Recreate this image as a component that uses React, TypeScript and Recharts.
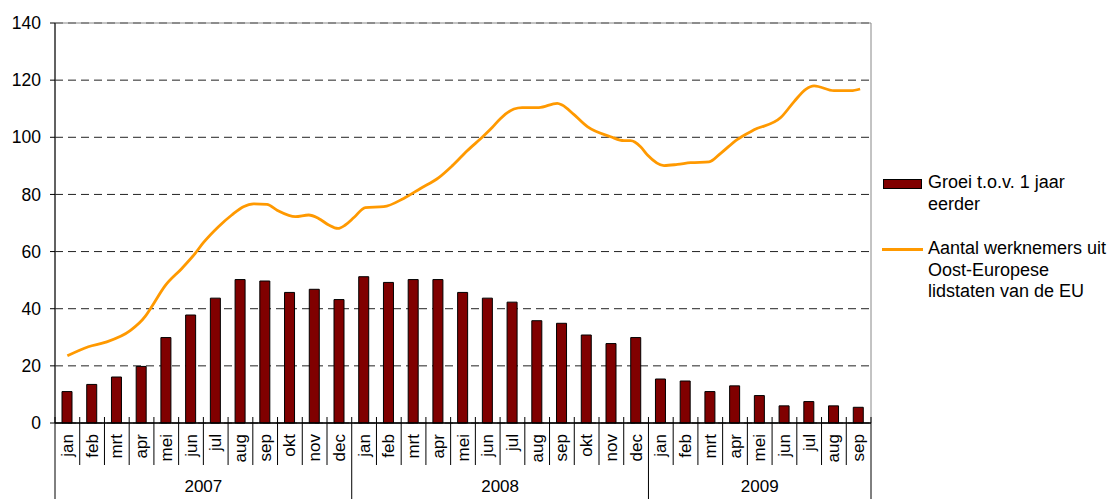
import React from "react";
import {
  ComposedChart,
  Bar,
  Line,
  XAxis,
  YAxis,
  CartesianGrid,
  ReferenceArea,
} from "recharts";

const MONTHS = ["jan", "feb", "mrt", "apr", "mei", "jun", "jul", "aug", "sep", "okt", "nov", "dec"];
const YEARS = ["2007", "2008", "2009"];
const MONTHS_PER_YEAR = [12, 12, 9];

// groei t.o.v. 1 jaar eerder (x 1000)
const GROWTH = [
  11.0, 13.5, 16.1, 19.8, 29.9, 37.8, 43.7, 50.2, 49.7, 45.7, 46.8, 43.2,
  51.2, 49.2, 50.2, 50.2, 45.7, 43.7, 42.3, 35.8, 34.9, 30.8, 27.8, 29.9,
  15.4, 14.7, 11.0, 13.0, 9.6, 6.0, 7.5, 6.0, 5.5,
];

// aantal werknemers, read at finer steps (t = months since mid jan 2007)
const LINE_T = [
  0, 0.85, 1.52, 2.54, 3.14, 3.41, 3.95, 4.63, 5.17, 5.5, 6.11, 6.65, 7.12, 7.53,
  8.07, 8.48, 9.22, 9.76, 10.16, 10.57, 10.94, 11.24, 11.6, 12.05, 12.79, 13.6,
  14.28, 15.02, 15.56, 16.17, 16.84, 17.18, 17.52, 18.06, 18.39, 19.07, 19.81,
  20.01, 20.48, 21.03, 21.97, 22.51, 22.78, 23.18, 23.46, 24.13, 24.67, 25.21,
  25.95, 26.42, 27.1, 27.77, 28.85, 29.39, 29.86, 30.2, 31.0, 31.69, 32.06,
];
const LINE_V = [
  23.5, 26.7, 28.2, 32.3, 37.2, 40.7, 48.0, 54.1, 59.4, 63.1, 68.7, 72.8, 75.7, 76.7,
  76.5, 74.5, 72.2, 72.8, 71.6, 69.3, 68.1, 69.3, 72.0, 75.4, 75.7, 78.6,
  82.1, 85.9, 90.0, 95.3, 100.5, 103.4, 106.6, 109.9, 110.4, 110.4, 111.9,
  111.3, 108.0, 103.7, 100.2, 98.8, 98.8, 96.7, 93.8, 90.1, 90.5, 91.1,
  91.4, 94.4, 99.3, 102.6, 106.9, 112.5, 116.8, 118.0, 116.3, 116.3, 116.9,
];

const Y_TICKS = [0, 20, 40, 60, 80, 100, 120, 140];

const BAR_NAME = "Groei t.o.v. 1 jaar eerder";
const LINE_NAME_LINES = ["Aantal werknemers uit", "Oost-Europese", "lidstaten van de EU"];
const BAR_NAME_LINES = ["Groei t.o.v. 1 jaar", "eerder"];

const W = 1112;
const H = 499;
const PLOT_LEFT = 55;
const PLOT_RIGHT = 871;
const PLOT_TOP = 23;
const PLOT_BOTTOM = 423;

const data = YEARS.flatMap((year, yi) =>
  MONTHS.slice(0, MONTHS_PER_YEAR[yi]).map((m) => ({ month: m, year }))
).map((d, i) => ({ ...d, growth: GROWTH[i] }));

const lineData = LINE_T.map((t, i) => ({ t, v: LINE_V[i] }));

const yearStarts: number[] = [];
MONTHS_PER_YEAR.reduce((acc, n) => {
  yearStarts.push(acc);
  return acc + n;
}, 0);

const BAND = (PLOT_RIGHT - PLOT_LEFT) / data.length;

function MonthTick(props: any) {
  const { x, payload } = props;
  const i = payload.index;
  const left = x - BAND / 2;
  const yi = yearStarts.indexOf(i);
  const isLast = i === data.length - 1;
  return (
    <g>
      <line
        x1={left}
        x2={left}
        y1={PLOT_BOTTOM - 6}
        y2={yi >= 0 ? H : 465}
        stroke="#000"
        strokeWidth={1}
      />
      {isLast && (
        <line x1={x + BAND / 2} x2={x + BAND / 2} y1={PLOT_BOTTOM - 6} y2={H} stroke="#000" />
      )}
      <text
        x={x}
        y={434}
        transform={`rotate(-90, ${x}, 434)`}
        textAnchor="end"
        dominantBaseline="central"
        fontSize={17}
        fill="#000"
      >
        {payload.value}
      </text>
      {yi >= 0 && (
        <text
          x={left + (MONTHS_PER_YEAR[yi] * BAND) / 2}
          y={486.5}
          textAnchor="middle"
          dominantBaseline="central"
          fontSize={17}
          fill="#000"
        >
          {YEARS[yi]}
        </text>
      )}
    </g>
  );
}

export default function App() {
  return (
    <div
      style={{
        position: "absolute",
        left: 0,
        top: 0,
        width: W,
        height: H,
        background: "#fff",
        fontFamily: "'Liberation Sans', Arial, sans-serif",
      }}
    >
      <ComposedChart
        width={W}
        height={H}
        data={data}
        margin={{ top: PLOT_TOP, right: W - PLOT_RIGHT, bottom: 0, left: 0 }}
        barCategoryGap={0}
      >
        <CartesianGrid vertical={false} stroke="#222" strokeDasharray="8 5" />
        <ReferenceArea y1={0} y2={140} fill="none" stroke="#888" strokeWidth={1} ifOverflow="visible" />
        <XAxis
          dataKey="month"
          interval={0}
          height={H - PLOT_BOTTOM}
          tickLine={false}
          axisLine={{ stroke: "#000", strokeWidth: 1.5 }}
          tick={<MonthTick />}
        />
        <XAxis
          xAxisId="t"
          type="number"
          dataKey="t"
          domain={[-0.5, data.length - 0.5]}
          allowDataOverflow
          hide
        />
        <YAxis
          domain={[0, 140]}
          ticks={Y_TICKS}
          width={PLOT_LEFT}
          tickSize={5}
          tickMargin={9}
          axisLine={{ stroke: "#000" }}
          tickLine={{ stroke: "#000" }}
          tick={{ fontSize: 17.5, fill: "#000" }}
        />
        <Bar
          dataKey="growth"
          name={BAR_NAME}
          barSize={10}
          fill="#800000"
          stroke="#000"
          strokeWidth={1}
          isAnimationActive={false}
        />
        <Line
          xAxisId="t"
          data={lineData}
          dataKey="v"
          type="monotone"
          stroke="#FF9900"
          strokeWidth={2.8}
          dot={false}
          activeDot={false}
          isAnimationActive={false}
        />
      </ComposedChart>

      <div style={{ position: "absolute", left: 883, top: 179, width: 37, height: 8, background: "#800000", border: "1px solid #000" }} />
      <div style={{ position: "absolute", left: 928, top: 172, fontSize: 18, lineHeight: "21.5px", color: "#000", whiteSpace: "nowrap" }}>
        {BAR_NAME_LINES.map((s) => (
          <div key={s}>{s}</div>
        ))}
      </div>
      <div style={{ position: "absolute", left: 882, top: 248, width: 41, height: 2.6, background: "#FF9900" }} />
      <div style={{ position: "absolute", left: 928, top: 238, fontSize: 18, lineHeight: "21.5px", color: "#000", whiteSpace: "nowrap" }}>
        {LINE_NAME_LINES.map((s) => (
          <div key={s}>{s}</div>
        ))}
      </div>
    </div>
  );
}
